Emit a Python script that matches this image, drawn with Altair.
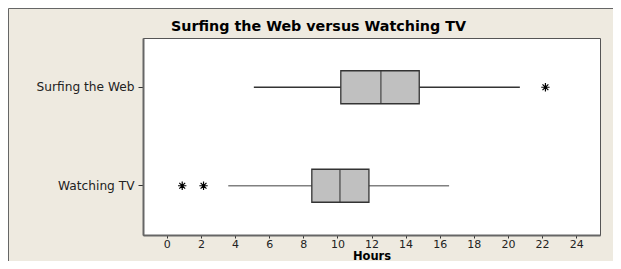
import altair as alt
import pandas as pd

cats = ["Surfing the Web", "Watching TV"]
lower = [5.1, 3.6]
q1 = [10.2, 8.5]
median = [12.55, 10.15]
q3 = [14.8, 11.85]
upper = [20.7, 16.55]
whisker_color = ["#333333", "#808080"]

out_cat = ["Surfing the Web", "Watching TV", "Watching TV"]
out_val = [22.2, 0.9, 2.15]

x_ticks = list(range(0, 25, 2))

box = pd.DataFrame({"cat": cats, "lower": lower, "q1": q1, "median": median,
                    "q3": q3, "upper": upper, "wc": whisker_color})
outl = pd.DataFrame({"cat": out_cat, "val": out_val})

FONT = "DejaVu Sans"
xscale = alt.Scale(domain=[-1.4, 25.4], nice=False, zero=False)
yscale = alt.Scale(domain=cats, paddingInner=0, paddingOuter=0)

xaxis = alt.Axis(values=x_ticks, title="Hours", grid=False, tickSize=3, tickColor="#333",
                 domainColor="#666", domainWidth=2, labelFont=FONT, labelFontSize=11,
                 labelColor="#222", labelPadding=0, labelOverlap=False,
                 titleFont=FONT, titleFontSize=11.5,
                 titleFontWeight="bold", titleColor="#000", titlePadding=1, labelFlush=False)
yaxis = alt.Axis(title=None, grid=False, tickSize=5, tickColor="#333", domainColor="#666",
                 domainWidth=2, labelFont=FONT, labelFontSize=12.2, labelColor="#222",
                 labelPadding=4)

X = lambda f: alt.X(f, scale=xscale, axis=xaxis)
Y = alt.Y("cat:N", scale=yscale, axis=yaxis, sort=cats)

base = alt.Chart(box)

whisk = base.mark_rule(strokeWidth=1.3).encode(
    x=X("lower:Q"), x2="upper:Q", y=Y,
    color=alt.Color("wc:N", scale=None),
)
bars = base.mark_bar(size=33, fill="#C0C0C0", stroke="#333", strokeWidth=1.3).encode(
    x=X("q1:Q"), x2="q3:Q", y=Y,
)
med = base.mark_tick(size=33, thickness=1.5, color="#333", orient="vertical").encode(
    x=X("median:Q"), y=Y,
)
ast = "M-1,0L1,0M0,-1L0,1M-0.7,-0.7L0.7,0.7M-0.7,0.7L0.7,-0.7"
pts = alt.Chart(outl).mark_point(shape=ast, size=70, stroke="#000", strokeWidth=1.2,
                                 filled=False, fill=None, opacity=1).encode(
    x=X("val:Q"), y=Y,
)
frame = alt.Chart(pd.DataFrame({"a": [0]})).mark_rect(
    fill=None, stroke="#666", strokeWidth=1, clip=False).encode(
    x=alt.value(-134.5), x2=alt.value(800), y=alt.value(-29.5), y2=alt.value(400))

chart = alt.layer(frame, whisk, bars, med, pts).properties(
    width=457, height=197,
    title=alt.TitleParams("Surfing the Web versus Watching TV", font=FONT, fontSize=14.3,
                          fontWeight="bold", color="#000", anchor="middle", dx=-53, dy=32,
                          offset=6),
    background="#EEEAE0",
    padding={"left": 135, "top": 30, "right": 13, "bottom": 26},
    autosize=alt.AutoSizeParams(type="none"),
).configure_view(fill="#FFFFFF", stroke="#555", strokeWidth=1)

chart.save("out.html", embed_options={"renderer": "svg", "actions": False})
